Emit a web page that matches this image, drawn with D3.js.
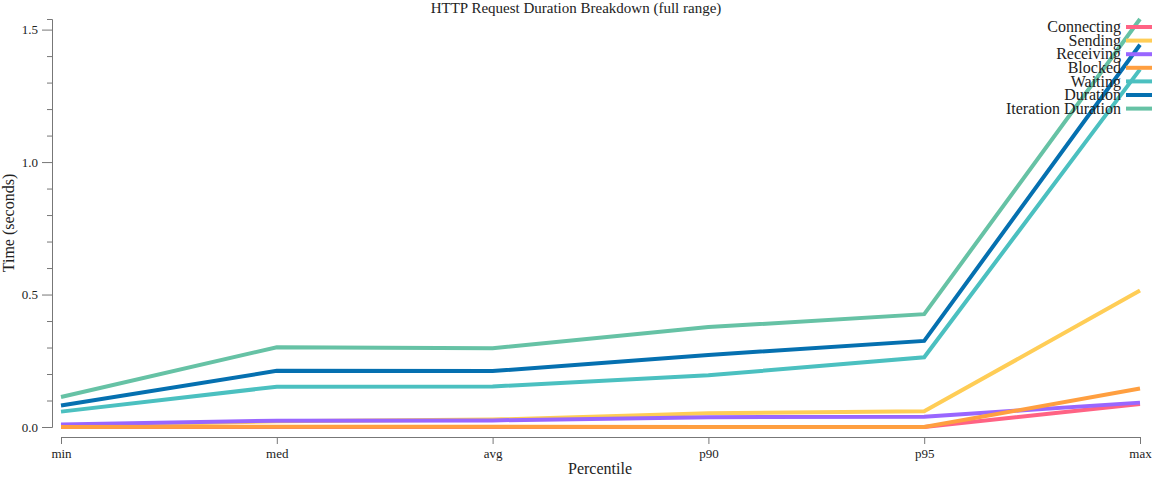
<!DOCTYPE html>
<html>
<head>
<meta charset="utf-8">
<title>HTTP Request Duration Breakdown</title>
<script src="https://cdn.jsdelivr.net/npm/d3@7"></script>
<style>
  body { margin: 0; background: #fff; }
  text { font-family: "Liberation Serif", "Times New Roman", serif; fill: #222; }
  .axis path, .axis line { stroke: #777; }
  .axis text { font-size: 13px; fill: #222; }
  .title { font-size: 15px; }
  .axis-label { font-size: 16px; }
  .legend text { font-size: 16px; }
</style>
</head>
<body>
<svg id="chart" width="1152" height="480"></svg>
<script>
// percentiles on the x axis
var percentiles = ["min", "med", "avg", "p90", "p95", "max"];

// series values in seconds
var connecting   = [0.000, 0.000, 0.000, 0.000, 0.000, 0.087];
var sending      = [0.003, 0.022, 0.028, 0.052, 0.059, 0.515];
var receiving    = [0.009, 0.024, 0.025, 0.037, 0.039, 0.092];
var blocked      = [0.000, 0.001, 0.001, 0.000, 0.000, 0.145];
var waiting      = [0.058, 0.152, 0.153, 0.195, 0.263, 1.350];
var duration     = [0.081, 0.212, 0.211, 0.272, 0.325, 1.443];
var iteration    = [0.113, 0.301, 0.297, 0.377, 0.426, 1.540];

var seriesNames  = ["Connecting", "Sending", "Receiving", "Blocked", "Waiting", "Duration", "Iteration Duration"];
var seriesValues = [connecting, sending, receiving, blocked, waiting, duration, iteration];
var seriesColors = ["#ff6384", "#ffcd56", "#9966ff", "#ff9f40", "#4bc0c0", "#0570b0", "#66c2a5"];

var yTicks = d3.range(0, 16).map(function(i) { return i / 10; });

var svg = d3.select("#chart");

var x = d3.scalePoint().domain(percentiles).range([61, 1140]);
var y = d3.scaleLinear().domain([0, 1.54]).range([427, 19]);

// title
svg.append("text")
  .attr("class", "title")
  .attr("x", 576)
  .attr("y", 13)
  .style("text-anchor", "middle")
  .text("HTTP Request Duration Breakdown (full range)");

// y axis with minor ticks every 0.1 and labels every 0.5
var yAxis = svg.append("g")
  .attr("class", "axis")
  .attr("transform", "translate(52,0)")
  .call(d3.axisLeft(y)
    .tickValues(yTicks)
    .tickSizeOuter(0)
    .tickSize(5)
    .tickPadding(4)
    .tickFormat(function(d) {
      var k = Math.round(d * 10);
      return k % 5 === 0 ? d3.format(".1f")(d) : "";
    }));

yAxis.selectAll(".tick line")
  .attr("x2", function(d) { return Math.round(d * 10) % 5 === 0 ? -10 : -5; });
yAxis.selectAll(".tick text")
  .attr("x", -14);

// x axis sits a little below the plot
svg.append("g")
  .attr("class", "axis")
  .attr("transform", "translate(0,437)")
  .call(d3.axisBottom(x).tickSizeOuter(0).tickSize(7).tickPadding(5));

// axis labels
svg.append("text")
  .attr("class", "axis-label")
  .attr("x", 600)
  .attr("y", 474)
  .style("text-anchor", "middle")
  .text("Percentile");

svg.append("text")
  .attr("class", "axis-label")
  .attr("transform", "translate(14,223) rotate(-90)")
  .style("text-anchor", "middle")
  .text("Time (seconds)");

// series lines
var line = d3.line()
  .x(function(d, i) { return x(percentiles[i]); })
  .y(function(d) { return y(d); });

svg.selectAll(".series")
  .data(seriesValues)
  .enter().append("path")
  .attr("class", "series")
  .attr("fill", "none")
  .attr("stroke", function(d, i) { return seriesColors[i]; })
  .attr("stroke-width", 4)
  .attr("d", line);

// legend in the top right
var legend = svg.append("g").attr("class", "legend");

var item = legend.selectAll("g")
  .data(seriesNames)
  .enter().append("g")
  .attr("transform", function(d, i) { return "translate(0," + (27 + i * 13.6) + ")"; });

item.append("text")
  .attr("x", 1121)
  .attr("dy", "0.32em")
  .style("text-anchor", "end")
  .text(function(d) { return d; });

item.append("line")
  .attr("x1", 1126)
  .attr("x2", 1154)
  .attr("stroke", function(d, i) { return seriesColors[i]; })
  .attr("stroke-width", 4);
</script>
</body>
</html>
